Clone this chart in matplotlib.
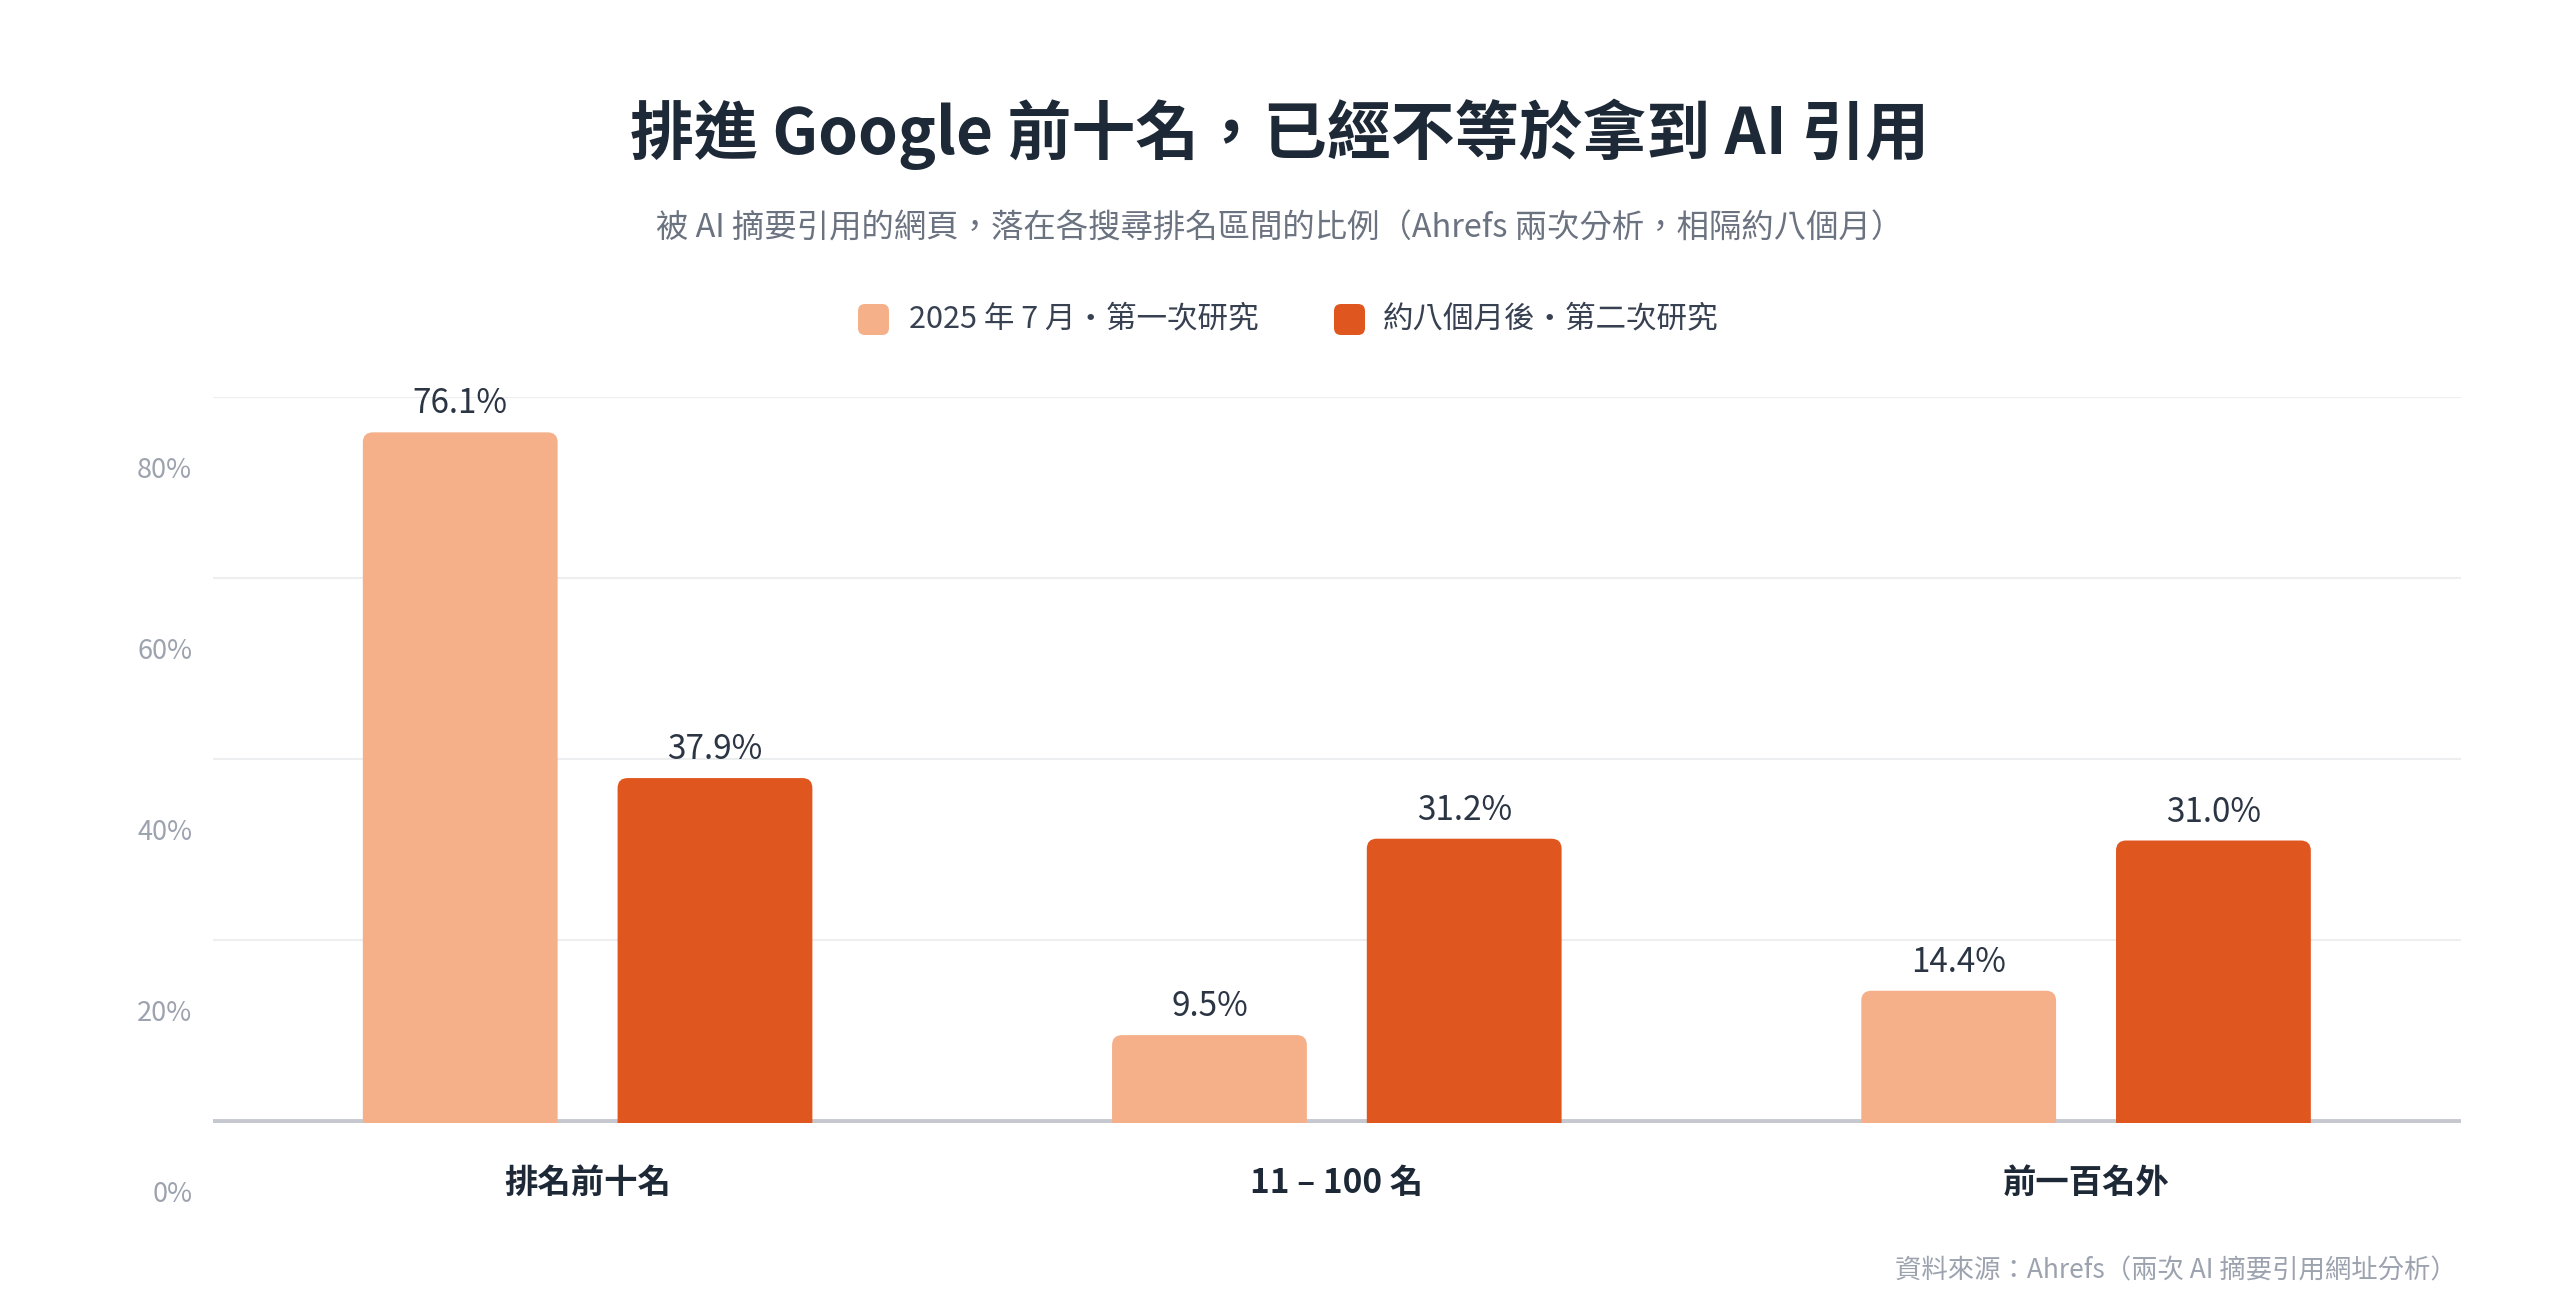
import matplotlib
matplotlib.use("Agg")
import numpy as np
import matplotlib.pyplot as plt
from matplotlib import font_manager as fm
from matplotlib.patches import FancyBboxPatch
from matplotlib.transforms import ScaledTranslation

plt.rcParams['font.family'] = ['Noto Sans CJK TC', 'DejaVu Sans']

# 資料
categories = ["排名前十名", "11 – 100 名", "前一百名外"]
first_study = [76.1, 9.5, 14.4]
second_study = [37.9, 31.2, 31.0]
series_names = ["2025 年 7 月·第一次研究", "約八個月後·第二次研究"]
y_ticks = [0, 20, 40, 60, 80]
y_tick_labels = ["0%", "20%", "40%", "60%", "80%"]

title = "排進 Google 前十名，已經不等於拿到 AI 引用"
subtitle = "被 AI 摘要引用的網頁，落在各搜尋排名區間的比例（Ahrefs 兩次分析，相隔約八個月）"
source = "資料來源：Ahrefs（兩次 AI 摘要引用網址分析）"

LIGHT = "#F5B08A"
DARK = "#E0561F"
TITLE_C = "#1E2937"
VALUE_C = "#2B3544"
TEXT_C = "#374151"
GRAY_C = "#6B7280"
TICK_C = "#9CA3AF"

# medium 굵기가 있으면 사용
cjk_weights = {f.weight for f in fm.fontManager.ttflist if f.name == 'Noto Sans CJK TC'}
value_weight = 500 if 500 in cjk_weights else "normal"

fig = plt.figure(figsize=(25.6, 13.04), dpi=100)
ax = fig.add_axes([0.0832, 0.1389, 0.878, 0.5566])

x = np.arange(len(categories))
width = 0.26
offset = 0.17


def round_top(bars, color):
    """막대 위쪽 모서리를 둥글게 (아래는 축에서 잘림)"""
    for b in bars:
        bx = b.get_x()
        bw, bh = b.get_width(), b.get_height()
        p = FancyBboxPatch((bx, -3), bw, bh + 3,
                           boxstyle="round,pad=0,rounding_size=0.0134",
                           mutation_aspect=82.8, facecolor=color,
                           edgecolor="none", zorder=3)
        ax.add_patch(p)
        b.remove()


bars1 = ax.bar(x - offset, first_study, width, color=LIGHT, zorder=3)
bars2 = ax.bar(x + offset, second_study, width, color=DARK, zorder=3)
round_top(bars1, LIGHT)
round_top(bars2, DARK)

for xs, vals in [(x - offset, first_study), (x + offset, second_study)]:
    for xi, v in zip(xs, vals):
        ax.annotate(f"{v:.1f}%", (xi, v), xytext=(0, 20.5), textcoords="offset points",
                    ha="center", va="center", fontsize=24, color=VALUE_C,
                    fontweight=value_weight, annotation_clip=False, zorder=4)

ax.set_xlim(-0.5, len(categories) - 0.5)
ax.set_ylim(-0.2, 80)
for s in ax.spines.values():
    s.set_visible(False)

for t in y_ticks[1:]:
    ax.axhline(t, color="#EDEEF0", linewidth=1.5, zorder=1)
ax.axhline(0, color="#C5C9CF", linewidth=3.5, zorder=2)

ax.set_yticks(y_ticks)
ax.set_yticklabels(y_tick_labels, fontsize=19.5, color=TICK_C)
ax.tick_params(axis="y", length=0, pad=15)
shift = ScaledTranslation(0, -0.706, fig.dpi_scale_trans)
for lab in ax.get_yticklabels():
    lab.set_transform(lab.get_transform() + shift)

ax.set_xticks(x)
ax.set_xticklabels(categories, fontsize=24, fontweight="bold", color=TITLE_C)
ax.tick_params(axis="x", length=0, pad=32)

# 제목
fig.text(0.5, 0.897, title, ha="center", va="center", fontsize=46,
         fontweight="bold", color=TITLE_C)
fig.text(0.5, 0.8246, subtitle, ha="center", va="center", fontsize=23.3, color=GRAY_C)

# 범례
for left, tx, name, col in [(8.58, 9.09, series_names[0], LIGHT),
                            (13.34, 13.83, series_names[1], DARK)]:
    box = FancyBboxPatch((left, 9.69), 0.31, 0.31,
                         boxstyle="round,pad=0,rounding_size=0.07",
                         facecolor=col, edgecolor="none",
                         transform=fig.dpi_scale_trans)
    fig.patches.append(box)
    fig.text(tx / 25.6, 0.755, name, ha="left", va="center", fontsize=22, color=TEXT_C)

fig.text(0.9598, 0.025, source, ha="right", va="center", fontsize=19, color=TICK_C)

fig.savefig("out.png", dpi=100, facecolor="white")
